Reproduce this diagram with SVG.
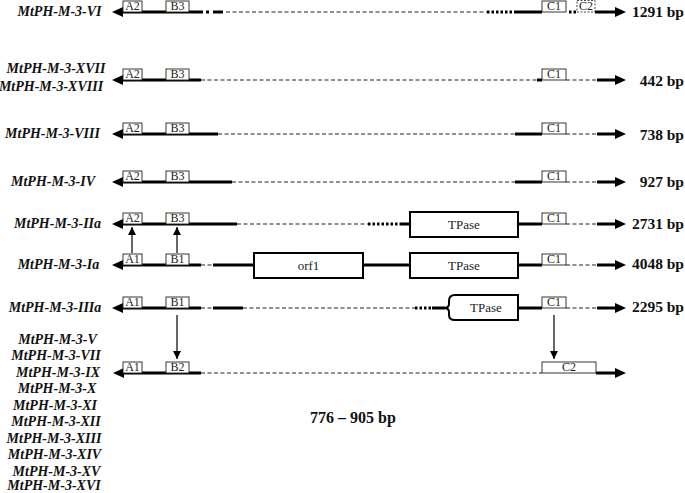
<svg xmlns="http://www.w3.org/2000/svg" width="685" height="493" viewBox="0 0 685 493">
<style>
.lbl{font-family:"Liberation Serif",serif;font-weight:bold;font-style:italic;font-size:14px;text-anchor:middle;fill:#111}
.bp{font-family:"Liberation Serif",serif;font-weight:bold;font-size:15.5px;text-anchor:end;fill:#111}
.bx{fill:#fff;stroke:#222;stroke-width:0.9}
.bxd{fill:#fff;stroke:#333;stroke-width:0.9;stroke-dasharray:2 1.5}
.bt{font-family:"Liberation Serif",serif;font-size:12px;text-anchor:middle;fill:#222}
.tt{font-family:"Liberation Serif",serif;font-size:13px;text-anchor:middle;fill:#222}
.thick{stroke:#000;stroke-width:3;fill:none}
.dash{stroke:#222;stroke-width:1;stroke-dasharray:4 2.5;fill:none}
.dot{stroke:#000;stroke-width:3;stroke-dasharray:2.5 2;fill:none}
.big{fill:#fff;stroke:#000;stroke-width:2}
.head{fill:#000}
.conn{stroke:#000;stroke-width:1.2;fill:none}
</style>
<defs>
<marker id="ah" viewBox="0 0 10 10" refX="10" refY="5" markerWidth="8" markerHeight="8" markerUnits="userSpaceOnUse" orient="auto">
<path d="M0,0 L10,5 L0,10 Z" fill="#000"/>
</marker>
</defs>

<g id="row-VI">
<text class="lbl" x="59.5" y="16">MtPH-M-3-VI</text>
<polygon class="head" points="112,12 123,7 123,17"/>
<line class="thick" x1="123" y1="12" x2="203" y2="12"/>
<line class="thick" x1="206" y1="12" x2="209" y2="12"/>
<line class="thick" x1="213" y1="12" x2="223" y2="12"/>
<line class="dash" x1="226" y1="12" x2="487" y2="12"/>
<line class="dot" x1="487" y1="12" x2="516" y2="12"/>
<line class="thick" x1="516" y1="12" x2="542" y2="12"/>
<line class="dot" x1="569" y1="12" x2="577" y2="12"/>
<line class="thick" x1="595" y1="12" x2="615" y2="12"/>
<polygon class="head" points="615,7 626,12 615,17"/>
<rect class="bx" x="123" y="1" width="19" height="11"/><text class="bt" x="132.5" y="10">A2</text>
<rect class="bx" x="166" y="1" width="23" height="11"/><text class="bt" x="177.5" y="10">B3</text>
<rect class="bx" x="542" y="1" width="24" height="11"/><text class="bt" x="554" y="10">C1</text>
<rect class="bxd" x="577" y="0.5" width="18" height="11.5"/><text class="bt" x="586" y="10">C2</text>
<text class="bp" x="684" y="17">1291 bp</text>
</g>

<g id="row-XVII">
<text class="lbl" x="56" y="73">MtPH-M-3-XVII</text>
<text class="lbl" x="51" y="91">MtPH-M-3-XVIII</text>
<polygon class="head" points="112,80 123,75 123,85"/>
<line class="thick" x1="123" y1="80" x2="201" y2="80"/>
<line class="dash" x1="201" y1="80" x2="537" y2="80"/>
<line class="thick" x1="537" y1="80" x2="542" y2="80"/>
<line class="dash" x1="566" y1="80" x2="597" y2="80"/>
<line class="thick" x1="597" y1="80" x2="615" y2="80"/>
<polygon class="head" points="615,75 626,80 615,85"/>
<rect class="bx" x="123" y="69" width="19" height="11"/><text class="bt" x="132.5" y="78">A2</text>
<rect class="bx" x="166" y="69" width="23" height="11"/><text class="bt" x="177.5" y="78">B3</text>
<rect class="bx" x="542" y="69" width="24" height="11"/><text class="bt" x="554" y="78">C1</text>
<text class="bp" x="684" y="86">442 bp</text>
</g>

<g id="row-VIII">
<text class="lbl" x="52.5" y="138">MtPH-M-3-VIII</text>
<polygon class="head" points="112,134 123,129 123,139"/>
<line class="thick" x1="123" y1="134" x2="218" y2="134"/>
<line class="dash" x1="218" y1="134" x2="515" y2="134"/>
<line class="thick" x1="515" y1="134" x2="542" y2="134"/>
<line class="dash" x1="566" y1="134" x2="597" y2="134"/>
<line class="thick" x1="597" y1="134" x2="615" y2="134"/>
<polygon class="head" points="615,129 626,134 615,139"/>
<rect class="bx" x="123" y="123" width="19" height="11"/><text class="bt" x="132.5" y="132">A2</text>
<rect class="bx" x="166" y="123" width="23" height="11"/><text class="bt" x="177.5" y="132">B3</text>
<rect class="bx" x="542" y="123" width="24" height="11"/><text class="bt" x="554" y="132">C1</text>
<text class="bp" x="684" y="140">738 bp</text>
</g>

<g id="row-IV">
<text class="lbl" x="53" y="186">MtPH-M-3-IV</text>
<polygon class="head" points="112,182 123,177 123,187"/>
<line class="thick" x1="123" y1="182" x2="232" y2="182"/>
<line class="dash" x1="232" y1="182" x2="515" y2="182"/>
<line class="thick" x1="515" y1="182" x2="542" y2="182"/>
<line class="dash" x1="566" y1="182" x2="597" y2="182"/>
<line class="thick" x1="597" y1="182" x2="615" y2="182"/>
<polygon class="head" points="615,177 626,182 615,187"/>
<rect class="bx" x="123" y="171" width="19" height="11"/><text class="bt" x="132.5" y="180">A2</text>
<rect class="bx" x="166" y="171" width="23" height="11"/><text class="bt" x="177.5" y="180">B3</text>
<rect class="bx" x="542" y="171" width="24" height="11"/><text class="bt" x="554" y="180">C1</text>
<text class="bp" x="684" y="187">927 bp</text>
</g>

<g id="row-IIa">
<text class="lbl" x="57.5" y="228">MtPH-M-3-IIa</text>
<polygon class="head" points="112,224 123,219 123,229"/>
<line class="thick" x1="123" y1="224" x2="237" y2="224"/>
<line class="dash" x1="237" y1="224" x2="368" y2="224"/>
<line class="dot" x1="368" y1="224" x2="400" y2="224"/>
<line class="thick" x1="400" y1="224" x2="410" y2="224"/>
<line class="thick" x1="518" y1="224" x2="542" y2="224"/>
<line class="dash" x1="566" y1="224" x2="597" y2="224"/>
<line class="thick" x1="597" y1="224" x2="615" y2="224"/>
<polygon class="head" points="615,219 626,224 615,229"/>
<rect class="bx" x="123" y="213" width="19" height="11"/><text class="bt" x="132.5" y="222">A2</text>
<rect class="bx" x="166" y="213" width="23" height="11"/><text class="bt" x="177.5" y="222">B3</text>
<rect class="big" x="410" y="212" width="108" height="25"/><text class="tt" x="464" y="229">TPase</text>
<rect class="bx" x="542" y="213" width="24" height="11"/><text class="bt" x="554" y="222">C1</text>
<text class="bp" x="684" y="229">2731 bp</text>
</g>

<g id="row-Ia">
<text class="lbl" x="58.5" y="269">MtPH-M-3-Ia</text>
<polygon class="head" points="112,265 123,260 123,270"/>
<line class="thick" x1="123" y1="265" x2="201" y2="265"/>
<line class="dash" x1="201" y1="265" x2="213" y2="265"/>
<line class="thick" x1="213" y1="265" x2="254" y2="265"/>
<line class="thick" x1="363" y1="265" x2="410" y2="265"/>
<line class="thick" x1="518" y1="265" x2="542" y2="265"/>
<line class="dash" x1="566" y1="265" x2="597" y2="265"/>
<line class="thick" x1="597" y1="265" x2="615" y2="265"/>
<polygon class="head" points="615,260 626,265 615,270"/>
<rect class="bx" x="123" y="254" width="19" height="11"/><text class="bt" x="132.5" y="263">A1</text>
<rect class="bx" x="166" y="254" width="23" height="11"/><text class="bt" x="177.5" y="263">B1</text>
<rect class="big" x="254" y="253" width="109" height="25"/><text class="tt" x="308.5" y="270">orf1</text>
<rect class="big" x="410" y="253" width="108" height="25"/><text class="tt" x="464" y="270">TPase</text>
<rect class="bx" x="542" y="254" width="24" height="11"/><text class="bt" x="554" y="263">C1</text>
<text class="bp" x="684" y="269">4048 bp</text>
</g>

<g id="row-IIIa">
<text class="lbl" x="55" y="312">MtPH-M-3-IIIa</text>
<polygon class="head" points="112,308 123,303 123,313"/>
<line class="thick" x1="123" y1="308" x2="201" y2="308"/>
<line class="dash" x1="201" y1="308" x2="213" y2="308"/>
<line class="thick" x1="213" y1="308" x2="243" y2="308"/>
<line class="dash" x1="243" y1="308" x2="415" y2="308"/>
<line class="dot" x1="415" y1="308" x2="432" y2="308"/>
<line class="thick" x1="432" y1="308" x2="445" y2="308"/>
<line class="thick" x1="518" y1="308" x2="542" y2="308"/>
<line class="dash" x1="566" y1="308" x2="597" y2="308"/>
<line class="thick" x1="597" y1="308" x2="615" y2="308"/>
<polygon class="head" points="615,303 626,308 615,313"/>
<rect class="bx" x="123" y="297" width="19" height="11"/><text class="bt" x="132.5" y="306">A1</text>
<rect class="bx" x="166" y="297" width="23" height="11"/><text class="bt" x="177.5" y="306">B1</text>
<path class="big" d="M455,295 L518,295 L518,320 L455,320 Q449,320 449,315 L449,312 Q449,308 444,308 Q449,308 449,304 L449,301 Q449,295 455,295 Z"/>
<text class="tt" x="486" y="312">TPase</text>
<rect class="bx" x="542" y="297" width="24" height="11"/><text class="bt" x="554" y="306">C1</text>
<text class="bp" x="684" y="312">2295 bp</text>
</g>

<g id="row-V-XVI">
<text class="lbl" x="57.5" y="344">MtPH-M-3-V</text>
<text class="lbl" x="56" y="360">MtPH-M-3-VII</text>
<text class="lbl" x="58" y="377">MtPH-M-3-IX</text>
<text class="lbl" x="57" y="393">MtPH-M-3-X</text>
<text class="lbl" x="55" y="410">MtPH-M-3-XI</text>
<text class="lbl" x="56" y="426">MtPH-M-3-XII</text>
<text class="lbl" x="54" y="443">MtPH-M-3-XIII</text>
<text class="lbl" x="54.5" y="459">MtPH-M-3-XIV</text>
<text class="lbl" x="56.5" y="476">MtPH-M-3-XV</text>
<text class="lbl" x="54" y="490">MtPH-M-3-XVI</text>
<polygon class="head" points="113,373 124,368 124,378"/>
<line class="thick" x1="123" y1="373" x2="201" y2="373"/>
<line class="dash" x1="201" y1="373" x2="542" y2="373"/>
<line class="thick" x1="596" y1="373" x2="615" y2="373"/>
<polygon class="head" points="615,368 626,373 615,378"/>
<rect class="bx" x="123" y="362" width="19" height="11"/><text class="bt" x="132.5" y="371">A1</text>
<rect class="bx" x="166" y="362" width="23" height="11"/><text class="bt" x="177.5" y="371">B2</text>
<rect class="bx" x="542" y="362" width="54" height="11"/><text class="bt" x="569" y="371">C2</text>
<text class="bp" x="310" y="423" style="text-anchor:start;font-size:16px">776 – 905 bp</text>
</g>

<g id="connectors">
<line class="conn" x1="132" y1="253" x2="132" y2="227" marker-end="url(#ah)"/>
<line class="conn" x1="177" y1="253" x2="177" y2="227" marker-end="url(#ah)"/>
<line class="conn" x1="177" y1="315" x2="177" y2="359" marker-end="url(#ah)"/>
<line class="conn" x1="554" y1="315" x2="554" y2="359" marker-end="url(#ah)"/>
</g>
</svg>
